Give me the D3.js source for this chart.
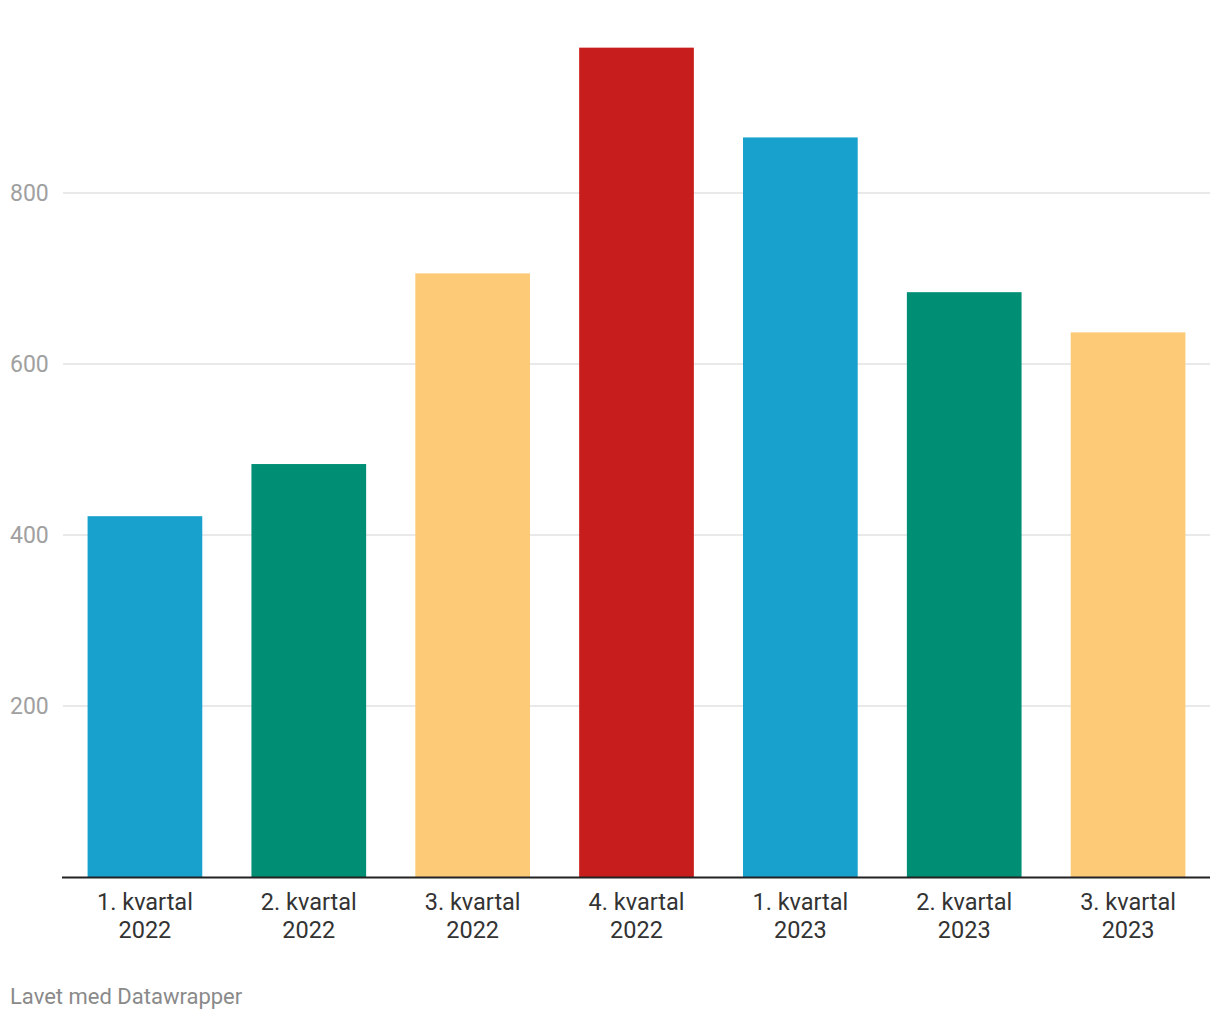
<!DOCTYPE html>
<html>
<head>
<meta charset="utf-8">
<script src="https://cdn.jsdelivr.net/npm/d3@7"></script>
<style>
  body { margin: 0; background: #fff; }
  text { font-family: Roboto, "Noto Sans", sans-serif; }
</style>
</head>
<body>
<svg id="chart" width="1220" height="1020"></svg>
<script>
const categories = ["1. kvartal|2022", "2. kvartal|2022", "3. kvartal|2022", "4. kvartal|2022", "1. kvartal|2023", "2. kvartal|2023", "3. kvartal|2023"];
const values = [422, 483, 706, 970, 865, 684, 637];
const barColors = ["#18a1cd", "#008f75", "#fdcb78", "#c71e1d", "#18a1cd", "#008f75", "#fdcb78"];
const yTicks = [200, 400, 600, 800];
const footer = "Lavet med Datawrapper";

const svg = d3.select("#chart");
const left = 63, right = 1210, baseY = 877;

const x = d3.scaleBand().domain(categories).range([left, right]).paddingInner(0.3).paddingOuter(0.15);
const y = d3.scaleLinear().domain([0, 800]).range([baseY, 193]);

// gridlines
const grid = svg.append("g");
grid.selectAll("line").data(yTicks).join("line")
  .attr("x1", left).attr("x2", right)
  .attr("y1", d => y(d)).attr("y2", d => y(d))
  .attr("stroke", "#e2e2e2").attr("stroke-width", 1.5);
grid.selectAll("text").data(yTicks).join("text")
  .attr("x", 10).attr("y", d => y(d)).attr("dy", "0.36em")
  .attr("fill", "#a0a0a0").attr("font-size", 23)
  .text(d => d);

// bars
svg.append("g").selectAll("rect").data(values).join("rect")
  .attr("x", (d, i) => x(categories[i]))
  .attr("width", x.bandwidth())
  .attr("y", d => y(d))
  .attr("height", d => baseY - y(d))
  .attr("fill", (d, i) => barColors[i]);

// baseline
svg.append("line").attr("x1", left - 1).attr("x2", right)
  .attr("y1", baseY + 0.5).attr("y2", baseY + 0.5)
  .attr("stroke", "#222").attr("stroke-width", 2);

// x labels
const xl = svg.append("g").selectAll("text").data(categories).join("text")
  .attr("x", d => x(d) + x.bandwidth() / 2)
  .attr("text-anchor", "middle").attr("fill", "#333").attr("font-size", 23.5);
xl.each(function(d) {
  const parts = d.split("|");
  const t = d3.select(this);
  parts.forEach((p, i) => {
    t.append("tspan").attr("x", x(d) + x.bandwidth() / 2).attr("y", 910 + i * 28).text(p);
  });
});

svg.append("text").attr("x", 10).attr("y", 1004)
  .attr("fill", "#8a8a8a").attr("font-size", 22).text(footer);
</script>
</body>
</html>
